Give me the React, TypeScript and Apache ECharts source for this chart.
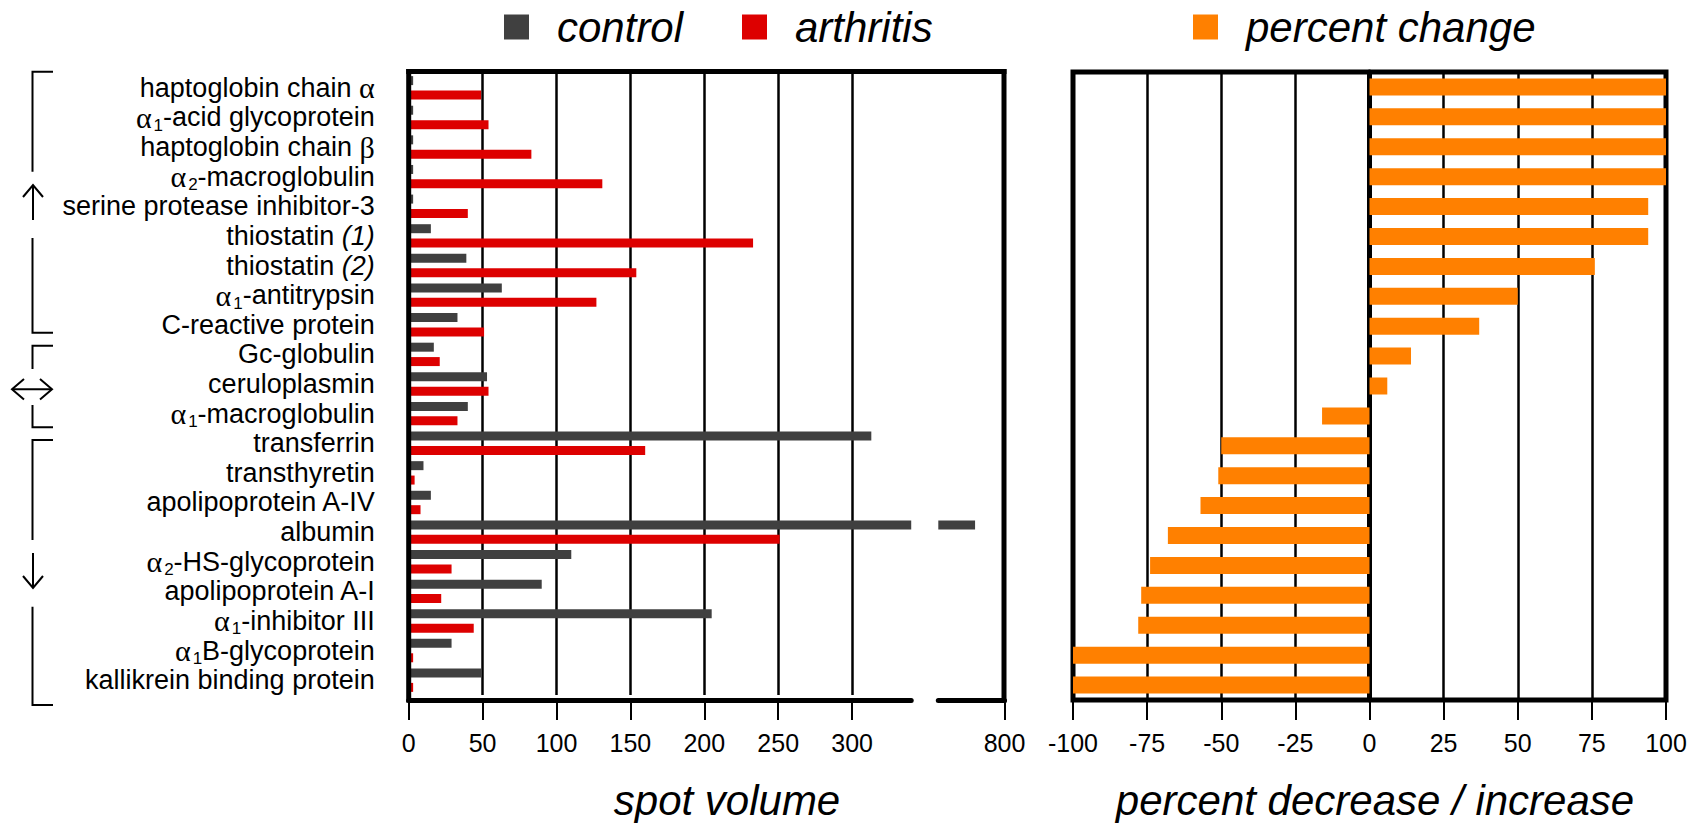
import React, { useEffect, useRef } from 'react';
import * as echarts from 'echarts';

// ---------- data ----------
const categories: string[] = [
  'haptoglobin chain α',
  'α₁-acid glycoprotein',
  'haptoglobin chain β',
  'α₂-macroglobulin',
  'serine protease inhibitor-3',
  'thiostatin (1)',
  'thiostatin (2)',
  'α₁-antitrypsin',
  'C-reactive protein',
  'Gc-globulin',
  'ceruloplasmin',
  'α₁-macroglobulin',
  'transferrin',
  'transthyretin',
  'apolipoprotein A-IV',
  'albumin',
  'α₂-HS-glycoprotein',
  'apolipoprotein A-I',
  'α₁-inhibitor III',
  'α₁B-glycoprotein',
  'kallikrein binding protein',
];
const control: number[] = [3, 3, 3, 3, 3, 15, 39, 63, 33, 17, 53, 40, 313, 10, 15, 780, 110, 90, 205, 29, 49];
const arthritis: number[] = [49, 54, 83, 131, 40, 233, 154, 127, 51, 21, 54, 33, 160, 4, 8, 251, 29, 22, 44, 3, 3];
const percentChange: number[] = [100, 100, 100, 100, 94, 94, 76, 50, 37, 14, 6, -16, -50, -51, -57, -68, -74, -77, -78, -100, -100];
const spotTicks: number[] = [0, 50, 100, 150, 200, 250, 300];
const spotBreakTicks: number[] = [800];

// ---------- style / layout ----------
const FONT = "'Liberation Sans', Arial, Helvetica, sans-serif";
const SERIF = "'Liberation Serif', 'Times New Roman', serif";
const C_CONTROL = '#404040';
const C_ARTH = '#DD0000';
const C_PCT = '#FF8000';

const A_LEFT = 408.7;
const A_MAX = 340;
const PX_PER_UNIT = 1.478;
const B_MIN = 755;
const B_MAX = 800;
const B_LEFT = 938.3;
const B_RIGHT = 1004.5;
const L_TOP = 73;
const L_H = 622;
const R_LEFT = 1073;
const R_RIGHT = 1666;
const R_TOP = 72;
const R_H = 628;

const toRich = (s: string) =>
  s
    .replace(/α/g, '{g|α}')
    .replace(/β/g, '{g|β}')
    .replace(/₁/g, '{s|1}')
    .replace(/₂/g, '{s|2}')
    .replace(/\((\d)\)/g, '{i|($1)}');

export default function App() {
  const ref = useRef<HTMLDivElement>(null);

  useEffect(() => {
    if (!ref.current) return;
    const chart = echarts.init(ref.current, null, { renderer: 'svg' });

    const tickLabel = { fontSize: 25, color: '#000', fontFamily: FONT, margin: 30 };
    const frame = (x1: number, y1: number, x2: number, y2: number) => ({
      type: 'line',
      z: 50,
      silent: true,
      shape: { x1, y1, x2, y2 },
      style: { stroke: '#000', lineWidth: 5 },
    });
    const pl = (points: number[][]) => ({
      type: 'polyline',
      z: 50,
      silent: true,
      shape: { points },
      style: { stroke: '#000', lineWidth: 2, fill: 'none' },
    });
    const legendBase = {
      orient: 'horizontal',
      top: 5,
      padding: 0,
      itemWidth: 25,
      itemHeight: 25,
      icon: 'rect',
      selectedMode: false,
      itemStyle: { borderWidth: 0 },
      textStyle: {
        fontSize: 42,
        fontStyle: 'italic',
        fontFamily: FONT,
        color: '#000',
        lineHeight: 44,
        padding: [0, 0, 0, 23],
      },
    };

    const option: any = {
      animation: false,
      backgroundColor: '#fff',
      legend: [
        { ...legendBase, left: 504, data: ['control'] },
        { ...legendBase, left: 742, data: ['arthritis'] },
        { ...legendBase, left: 1193, data: ['percent change'] },
      ],
      grid: [
        { left: A_LEFT, top: L_TOP, width: A_MAX * PX_PER_UNIT, height: L_H, outerBoundsMode: 'none', containLabel: false },
        { left: B_LEFT, top: L_TOP, width: B_RIGHT - B_LEFT, height: L_H, outerBoundsMode: 'none', containLabel: false },
        {
          left: R_LEFT,
          top: R_TOP,
          width: R_RIGHT - R_LEFT,
          height: R_H,
          show: true,
          borderColor: '#000',
          borderWidth: 5,
          backgroundColor: 'transparent',
          outerBoundsMode: 'none',
          containLabel: false,
        },
      ],
      xAxis: [
        {
          gridIndex: 0,
          type: 'value',
          min: 0,
          max: A_MAX,
          interval: 50,
          offset: 5,
          axisLine: { show: true, onZero: false, lineStyle: { color: '#000', width: 5 } },
          axisTick: { show: true, length: 20, customValues: spotTicks, lineStyle: { color: '#000', width: 2 } },
          axisLabel: { ...tickLabel, customValues: spotTicks },
          splitLine: { show: true, lineStyle: { color: '#000', width: 2.5 } },
        },
        {
          gridIndex: 1,
          type: 'value',
          min: B_MIN,
          max: B_MAX,
          offset: 5,
          axisLine: { show: true, onZero: false, lineStyle: { color: '#000', width: 5 } },
          axisTick: { show: true, length: 20, customValues: spotBreakTicks, lineStyle: { color: '#000', width: 2 } },
          axisLabel: { ...tickLabel, customValues: spotBreakTicks },
          splitLine: { show: false },
        },
        {
          gridIndex: 2,
          type: 'value',
          min: -100,
          max: 100,
          interval: 25,
          axisLine: { show: false },
          axisTick: { show: true, length: 20, lineStyle: { color: '#000', width: 2 } },
          axisLabel: { ...tickLabel },
          splitLine: { show: true, lineStyle: { color: '#000', width: 2.5 } },
        },
      ],
      yAxis: [
        {
          gridIndex: 0,
          type: 'category',
          data: categories,
          inverse: true,
          axisLine: { show: false },
          axisTick: { show: false },
          splitLine: { show: false },
          axisLabel: {
            interval: 0,
            margin: 34,
            fontSize: 27,
            color: '#000',
            fontFamily: FONT,
            formatter: (v: string) => toRich(v),
            rich: {
              g: { fontFamily: SERIF, fontSize: 30, color: '#000' },
              s: { fontFamily: FONT, fontSize: 17, color: '#000', padding: [16, 0, 0, 2] },
              i: { fontFamily: FONT, fontSize: 27, fontStyle: 'italic', color: '#000' },
            },
          },
        },
        {
          gridIndex: 1,
          type: 'category',
          data: categories,
          inverse: true,
          show: false,
        },
        {
          gridIndex: 2,
          type: 'category',
          data: categories,
          inverse: true,
          axisLine: { show: true, onZero: true, lineStyle: { color: '#000', width: 5 } },
          axisTick: { show: false },
          axisLabel: { show: false },
          splitLine: { show: false },
        },
      ],
      series: [
        { name: 'control', type: 'bar', xAxisIndex: 0, yAxisIndex: 0, data: control, barWidth: 9, barGap: '60%', itemStyle: { color: C_CONTROL }, clip: true },
        { name: 'arthritis', type: 'bar', xAxisIndex: 0, yAxisIndex: 0, data: arthritis, barWidth: 9, barGap: '60%', itemStyle: { color: C_ARTH }, clip: true },
        { name: 'control', type: 'bar', xAxisIndex: 1, yAxisIndex: 1, data: control, barWidth: 9, barGap: '60%', itemStyle: { color: C_CONTROL }, clip: true },
        { name: 'arthritis', type: 'bar', xAxisIndex: 1, yAxisIndex: 1, data: arthritis, barWidth: 9, barGap: '60%', itemStyle: { color: C_ARTH }, clip: true },
        { name: 'percent change', type: 'bar', xAxisIndex: 2, yAxisIndex: 2, data: percentChange, barWidth: 17, itemStyle: { color: C_PCT }, clip: true },
      ],
      graphic: [
        // left panel frame (bottom edge is the broken axis line)
        frame(406.2, 71.5, 1006.5, 71.5),
        frame(A_LEFT, 69, A_LEFT, 702.5),
        frame(B_RIGHT - 0.5, 69, B_RIGHT - 0.5, 702.5),
        // bracket group: increased
        pl([[53, 71.7], [32.5, 71.7], [32.5, 171.7]]),
        pl([[33, 186], [33, 220]]),
        pl([[23, 197], [33, 185], [43, 197]]),
        pl([[32.5, 238], [32.5, 332.7], [53, 332.7]]),
        // bracket group: unchanged
        pl([[53, 345.7], [32.5, 345.7], [32.5, 369]]),
        pl([[13, 389.3], [51, 389.3]]),
        pl([[24, 379], [12, 389.3], [24, 399.6]]),
        pl([[40, 379], [52, 389.3], [40, 399.6]]),
        pl([[32.5, 405], [32.5, 427.3], [53, 427.3]]),
        // bracket group: decreased
        pl([[53, 440], [32.5, 440], [32.5, 540]]),
        pl([[33, 553], [33, 587]]),
        pl([[23, 576], [33, 588], [43, 576]]),
        pl([[32.5, 606.7], [32.5, 705], [53, 705]]),
        // axis titles
        {
          type: 'text',
          x: 727,
          y: 800,
          silent: true,
          style: {
            text: 'spot volume',
            fontSize: 42,
            fontStyle: 'italic',
            fontFamily: FONT,
            fill: '#000',
            textAlign: 'center',
            textVerticalAlign: 'middle',
            align: 'center',
            verticalAlign: 'middle',
          },
        },
        {
          type: 'text',
          x: 1375,
          y: 800,
          silent: true,
          style: {
            text: 'percent decrease / increase',
            fontSize: 42,
            fontStyle: 'italic',
            fontFamily: FONT,
            fill: '#000',
            textAlign: 'center',
            textVerticalAlign: 'middle',
            align: 'center',
            verticalAlign: 'middle',
          },
        },
      ],
    };

    chart.setOption(option);
    return () => chart.dispose();
  }, []);

  return (
    <div
      ref={ref}
      style={{ position: 'fixed', left: 0, top: 0, width: 1704, height: 823, background: '#fff' }}
    />
  );
}
